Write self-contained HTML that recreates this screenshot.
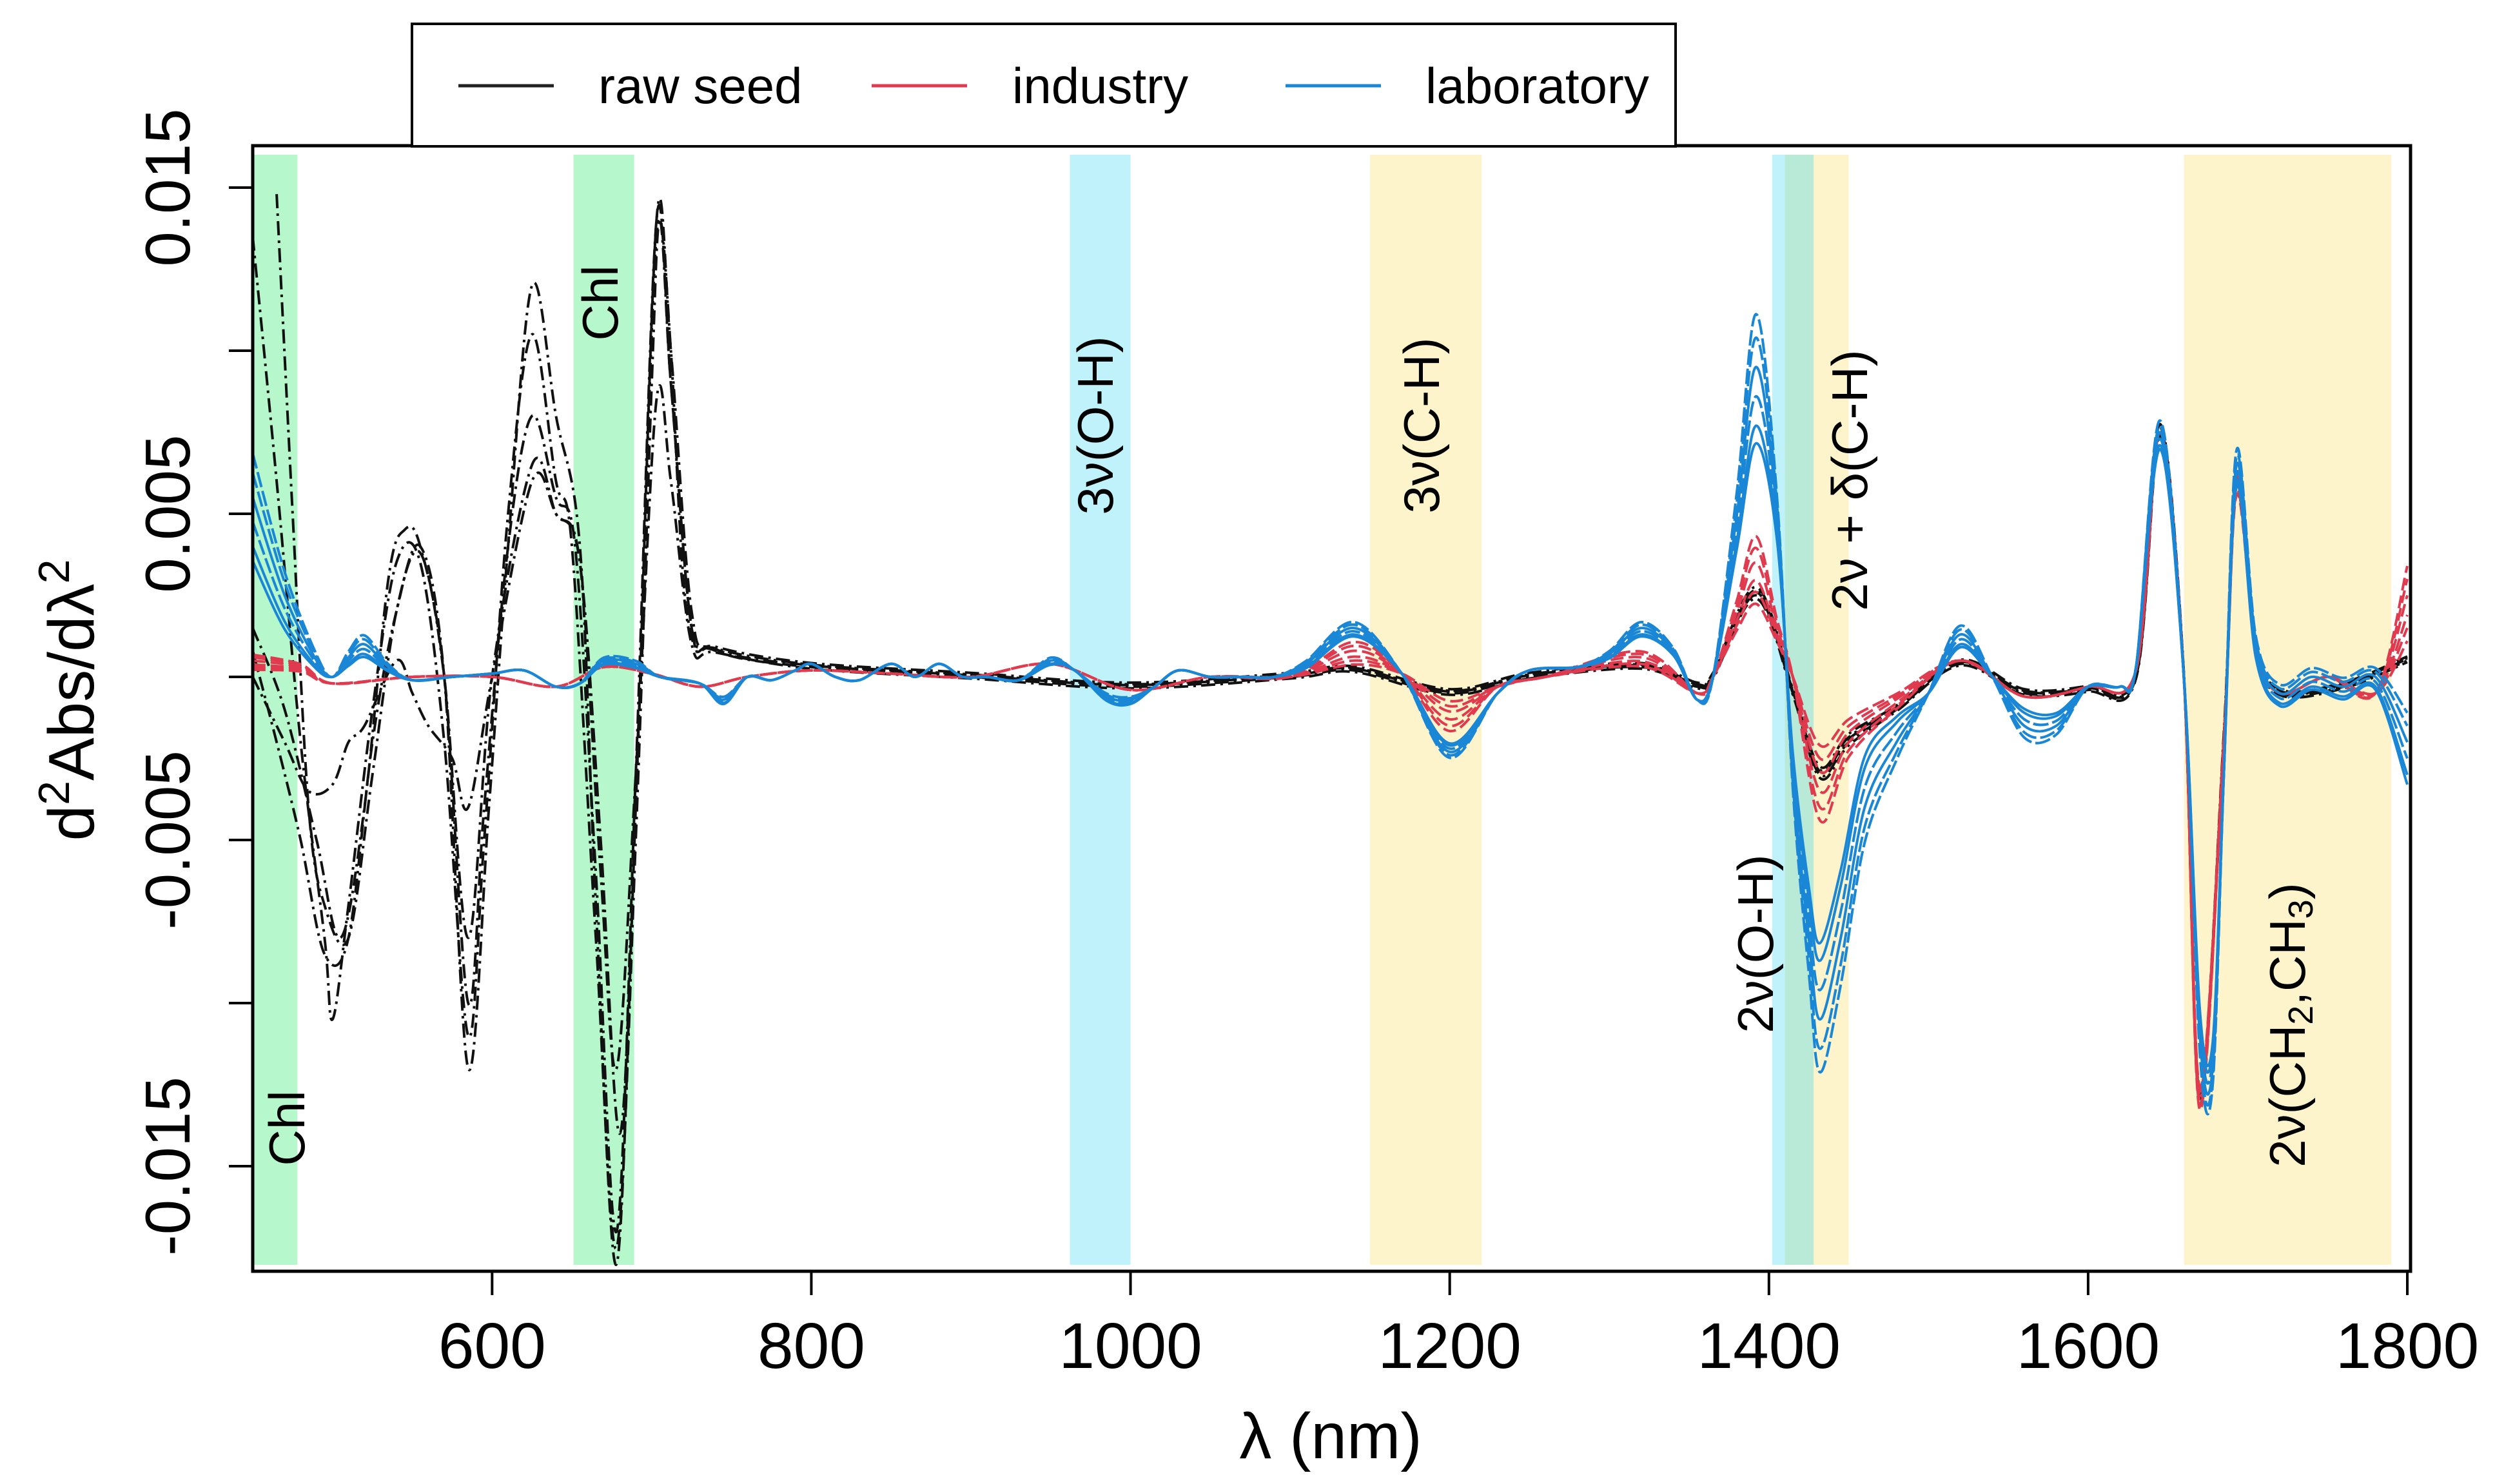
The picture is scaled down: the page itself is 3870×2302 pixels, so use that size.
<!DOCTYPE html>
<html><head><meta charset="utf-8">
<style>
html,body{margin:0;padding:0;background:#fff;}
svg{display:block;font-family:"Liberation Sans",Arial,sans-serif;}
</style></head>
<body>
<svg id="chart" width="3870" height="2302" viewBox="0 0 3870 2302" xmlns="http://www.w3.org/2000/svg">
<g id="bands"></g>
<g id="series"></g>
<g id="axes"></g>
<g id="notes"></g>
<g id="legend">
  <rect x="639" y="37" width="1960" height="190" fill="#fff" stroke="#000" stroke-width="4"/>
  <line x1="711" y1="133" x2="859" y2="133" stroke="#222" stroke-width="5"/>
  <text x="928" y="160" font-size="78">raw seed</text>
  <line x1="1352" y1="133" x2="1500" y2="133" stroke="#e03a4e" stroke-width="5"/>
  <text x="1570" y="160" font-size="78">industry</text>
  <line x1="1994" y1="133" x2="2142" y2="133" stroke="#1a86d6" stroke-width="5"/>
  <text x="2211" y="160" font-size="78">laboratory</text>
</g>
</svg>
<script>
// ---- data (values in units of 1e-3) ----
const xTicks = [600, 800, 1000, 1200, 1400, 1600, 1800];
const yTicks = [-0.015, -0.01, -0.005, 0, 0.005, 0.01, 0.015];
const yTickLabels = ["-0.015", "", "-0.005", "", "0.005", "", "0.015"];
const bandStart = [450, 651, 962, 1150, 1402, 1420, 1410, 1660];
const bandEnd   = [478, 689, 1000, 1220, 1416, 1450, 1428, 1790];
const bandKind  = ["green","green","cyan","yellow","cyan","yellow","teal","yellow"];

const labWl  = [450,470,490,500,510,520,535,550,575,600,620,640,655,670,690,705,730,745,760,775,790,800,815,830,850,865,880,895,910,930,950,965,985,1000,1015,1030,1050,1070,1090,1110,1140,1170,1200,1230,1250,1280,1300,1320,1340,1355,1365,1380,1392,1405,1415,1425,1432,1445,1460,1480,1500,1520,1540,1560,1580,1600,1620,1630,1645,1660,1670,1678,1685,1693,1705,1720,1740,1760,1780,1800];
const labVal = [5.5,2.5,0.5,0,0.6,1.0,0.3,-0.1,0,0.1,0.2,-0.3,-0.2,0.5,0.4,0,-0.2,-0.7,0,-0.1,0.2,0.4,0,-0.1,0.4,0,0.4,0,0,-0.1,0.5,0.2,-0.6,-0.7,-0.3,0.2,0,0,0,0.4,1.5,0.1,-2.3,-0.5,0.2,0.3,0.7,1.5,0.8,-0.7,0,5,9.5,5,-3,-8,-10.5,-8,-4,-2,-0.5,1.3,0,-1.5,-1.5,-0.3,-0.3,0.3,7.5,0,-11,-12,-3,6.5,1,-0.5,0,-0.3,0,-2];
const labDelta = [1.5,0.8,0.2,0,0.2,0.3,0.1,0,0,0,0,0,0,0.1,0.1,0,0,0.1,0,0,0,0,0,0,0,0,0,0,0,0,0.1,0,0.1,0.1,0,0,0,0,0,0.1,0.2,0,-0.2,0,0,0,0.1,0.2,0.1,0,0,0.8,1.8,0.6,-0.5,-1.2,-1.8,-1.6,-1.2,-0.6,0,0.3,0,-0.4,-0.3,0,0,0,0.4,0,-0.6,-0.6,0,0.5,0.3,0.3,0.3,0.3,0.3,1];
const labK = [0, -0.5, -1, 0.5, -1.3, 0.9];

const indWl  = [450,480,500,550,600,640,670,700,730,760,800,850,900,950,1000,1050,1100,1140,1170,1200,1230,1260,1320,1355,1365,1380,1392,1405,1415,1432,1450,1480,1520,1560,1600,1630,1645,1660,1670,1685,1693,1705,1720,1750,1780,1800];
const indVal = [0.5,0.3,-0.2,0,0,-0.3,0.3,0.1,-0.3,0,0.2,0.1,0,0.4,-0.4,0,0,0.8,0.1,-1.3,-0.3,0,0.6,-0.5,0,2,3.5,1.5,0,-3.5,-2,-0.8,0.5,-0.6,-0.3,0.2,7.5,0,-13,-2,6,1,-0.5,0,-0.5,2.5];
const indDelta = [0.2,0.1,0,0,0,0,0,0,0,0,0,0,0,0,0,0,0,0.3,0,-0.4,0,0,0.2,0,0,0.4,0.9,0.3,0,-1,-0.5,-0.2,0,0,0,0,0,0,-0.3,0,0.3,0,0,0,0,1];
const indK = [0, -0.6, -1, 0.5, -1.4, 0.9];

const rawTailWl  = [740,800,900,1000,1100,1140,1200,1250,1320,1355,1365,1392,1415,1432,1450,1480,1520,1560,1600,1630,1645,1660,1670,1685,1693,1705,1720,1760,1800];
const rawTailVal = [0.8,0.3,0,-0.3,0,0.2,-0.5,0,0.3,-0.3,0,2.5,-0.5,-3,-2,-1,0.4,-0.5,-0.4,0,7.5,0,-13,-2,6,1,-0.5,-0.3,0.5];
const rawS1Wl  = [450,465,480,495,500,510,525,540,555,570,585,595,610,625,640,650,665,678,690,700,705,712,722];
const rawS1Val = [13.5,6,-2,-8,-10.5,-7,-1,3.5,3.5,-2,-11,-5,5,10.5,6,4,-8,-17.5,-5,9,14,10,2];
const rawS2Wl  = [450,470,490,505,520,535,545,555,570,585,595,610,625,640,652,665,678,690,703,712,725];
const rawS2Val = [1.5,-1,-5,-8,-4,3,4.5,4,0,-10,-4,4,8,5.5,4,-6,-17,-3,14,9,1.5];
const rawS3Wl  = [465,475,485,495,510,525,540,555,570,585,600,625,640,655,668,678,690,703,712,725];
const rawS3Val = [14.8,5,-4,-7,-8,-3,2,3.8,0,-8,0,6.5,5,3.5,-6,-12,-3,8.5,6,1];
const rawS4Wl  = [450,470,485,500,510,520,540,550,560,575,585,600,625,640,655,668,680,690,703,712,725];
const rawS4Val = [0,-2,-3.5,-3.3,-2,-1.5,0.5,-0.5,-1.5,-2.5,-4,0,6,5,3.5,-5,-14,-4,13.5,9,1.5];
const rawS5Wl  = [450,465,480,495,510,525,540,555,570,585,598,610,625,640,655,665,678,690,703,712,725];
const rawS5Val = [0.8,-2,-5,-8.5,-8,-2,2,4,0,-12,-4,4,12,8,4,-7,-18,-4,14,10,2];
const rawTailOff = [0, 0.15, -0.1, 0.25, 0.1];

// ---- scales ----
const X0 = 392, X1 = 3734, WL0 = 450, WL1 = 1800;
const YZ = 1050, YS = 50600;
const PT = 226, PB = 1972, PR = 3739;
function sx(w){ return X0 + (w - WL0) / (WL1 - WL0) * (X1 - X0); }
function sy(v){ return YZ - v * YS; }
const NS = "http://www.w3.org/2000/svg";
function mk(tag, attrs, parent){
  const e = document.createElementNS(NS, tag);
  for (const k in attrs) e.setAttribute(k, attrs[k]);
  parent.appendChild(e); return e;
}
function pathFrom(pts){
  let d = "M" + pts[0][0].toFixed(1) + "," + pts[0][1].toFixed(1);
  for (let i = 0; i < pts.length - 1; i++){
    const p0 = pts[Math.max(i-1,0)], p1 = pts[i], p2 = pts[i+1], p3 = pts[Math.min(i+2,pts.length-1)];
    const c1x = p1[0] + (p2[0]-p0[0])/6, c1y = p1[1] + (p2[1]-p0[1])/6;
    const c2x = p2[0] - (p3[0]-p1[0])/6, c2y = p2[1] - (p3[1]-p1[1])/6;
    d += "C" + c1x.toFixed(1)+","+c1y.toFixed(1)+" "+c2x.toFixed(1)+","+c2y.toFixed(1)+" "+p2[0].toFixed(1)+","+p2[1].toFixed(1);
  }
  return d;
}

// ---- bands ----
const bandColor = {green:"#b6f7cb", cyan:"#bff2fb", yellow:"#fdf4cc", teal:"#b9ead8"};
const gB = document.getElementById("bands");
for (let i = 0; i < bandStart.length; i++){
  const r = mk("rect", {x: sx(bandStart[i]), y: 240, width: sx(bandEnd[i]) - sx(bandStart[i]), height: 1722, fill: bandColor[bandKind[i]]}, gB);
  
  
}

// ---- series ----
const gS = document.getElementById("series");
function drawLine(wl, vals, color, dash, name){
  const pts = wl.map((w, i) => [sx(w), sy(vals[i] / 1000)]);
  const p = mk("path", {d: pathFrom(pts), fill: "none", stroke: color, "stroke-width": 4, "stroke-dasharray": dash, "stroke-linejoin": "round"}, gS);
  
  
}
// raw seed
const rawParts = [[rawS1Wl, rawS1Val],[rawS2Wl, rawS2Val],[rawS3Wl, rawS3Val],[rawS4Wl, rawS4Val],[rawS5Wl, rawS5Val]];
rawParts.forEach((part, j) => {
  const wl = part[0].concat(rawTailWl);
  const v = part[1].concat(rawTailVal.map(t => t + rawTailOff[j] * (Math.abs(t) > 1 ? 1 : 0.5)));
  drawLine(wl, v, "#111", "22,8,4,8", "raw-seed-spectrum-" + (j+1));
});
// industry
indK.forEach((k, j) => {
  drawLine(indWl, indVal.map((v, i) => v + k * indDelta[i]), "#e03a4e", "20,8", "industry-spectrum-" + (j+1));
});
// laboratory
labK.forEach((k, j) => {
  drawLine(labWl, labVal.map((v, i) => v + k * labDelta[i]), "#1a86d6", j % 2 ? "24,6" : "none", "laboratory-spectrum-" + (j+1));
});

// ---- axes ----
const gA = document.getElementById("axes");
const frame = mk("rect", {x: X0, y: PT, width: PR - X0, height: PB - PT, fill: "none", stroke: "#000", "stroke-width": 5}, gA);


xTicks.forEach(t => {
  const l = mk("line", {x1: sx(t), x2: sx(t), y1: PB, y2: PB + 37, stroke: "#000", "stroke-width": 4}, gA);
  
  
  const tx = mk("text", {x: sx(t), y: 2122, "font-size": 100, "text-anchor": "middle"}, gA);
  tx.textContent = String(t);
  
  
});
yTicks.forEach((t, i) => {
  const y = sy(t);
  const l = mk("line", {x1: X0 - 37, x2: X0, y1: y, y2: y, stroke: "#000", "stroke-width": 4}, gA);
  
  
  if (yTickLabels[i]){
    const tx = mk("text", {x: 0, y: 0, "font-size": 98, "text-anchor": "middle", transform: "translate(294," + y + ") rotate(-90)"}, gA);
    tx.textContent = yTickLabels[i];
    
    
  }
});
const xt = mk("text", {x: 2064, y: 2262, "font-size": 100, "text-anchor": "middle"}, gA);
xt.textContent = "λ (nm)";


const yt = mk("text", {x: 0, y: 0, "font-size": 100, "text-anchor": "middle", transform: "translate(145,1086) rotate(-90)"}, gA);
yt.innerHTML = 'd<tspan dy="-38" font-size="68">2</tspan><tspan dy="38">Abs/dλ</tspan><tspan dy="-38" font-size="68">2</tspan>';



// ---- band labels ----
const gN = document.getElementById("notes");
function note(x, y, html, name){
  const t = mk("text", {x: 0, y: 0, "font-size": 78, "text-anchor": "middle", transform: "translate(" + x + "," + y + ") rotate(-90)"}, gN);
  t.innerHTML = html;
  
  
}
note(472, 1750, "Chl", "chl-label-1");
note(958, 470, "Chl", "chl-label-2");
note(1726, 660, "3ν(O-H)", "oh-3rd-overtone-label");
note(2232, 660, "3ν(C-H)", "ch-3rd-overtone-label");
note(2896, 745, "2ν + δ(C-H)", "ch-combination-label");
note(2750, 1464, "2ν(O-H)", "oh-1st-overtone-label");
note(3575, 1590, '2ν(CH<tspan font-size="54" dy="12">2</tspan><tspan dy="-12">,CH</tspan><tspan font-size="54" dy="12">3</tspan><tspan dy="-12">)</tspan>', "ch2-ch3-label");
</script>
</body></html>
